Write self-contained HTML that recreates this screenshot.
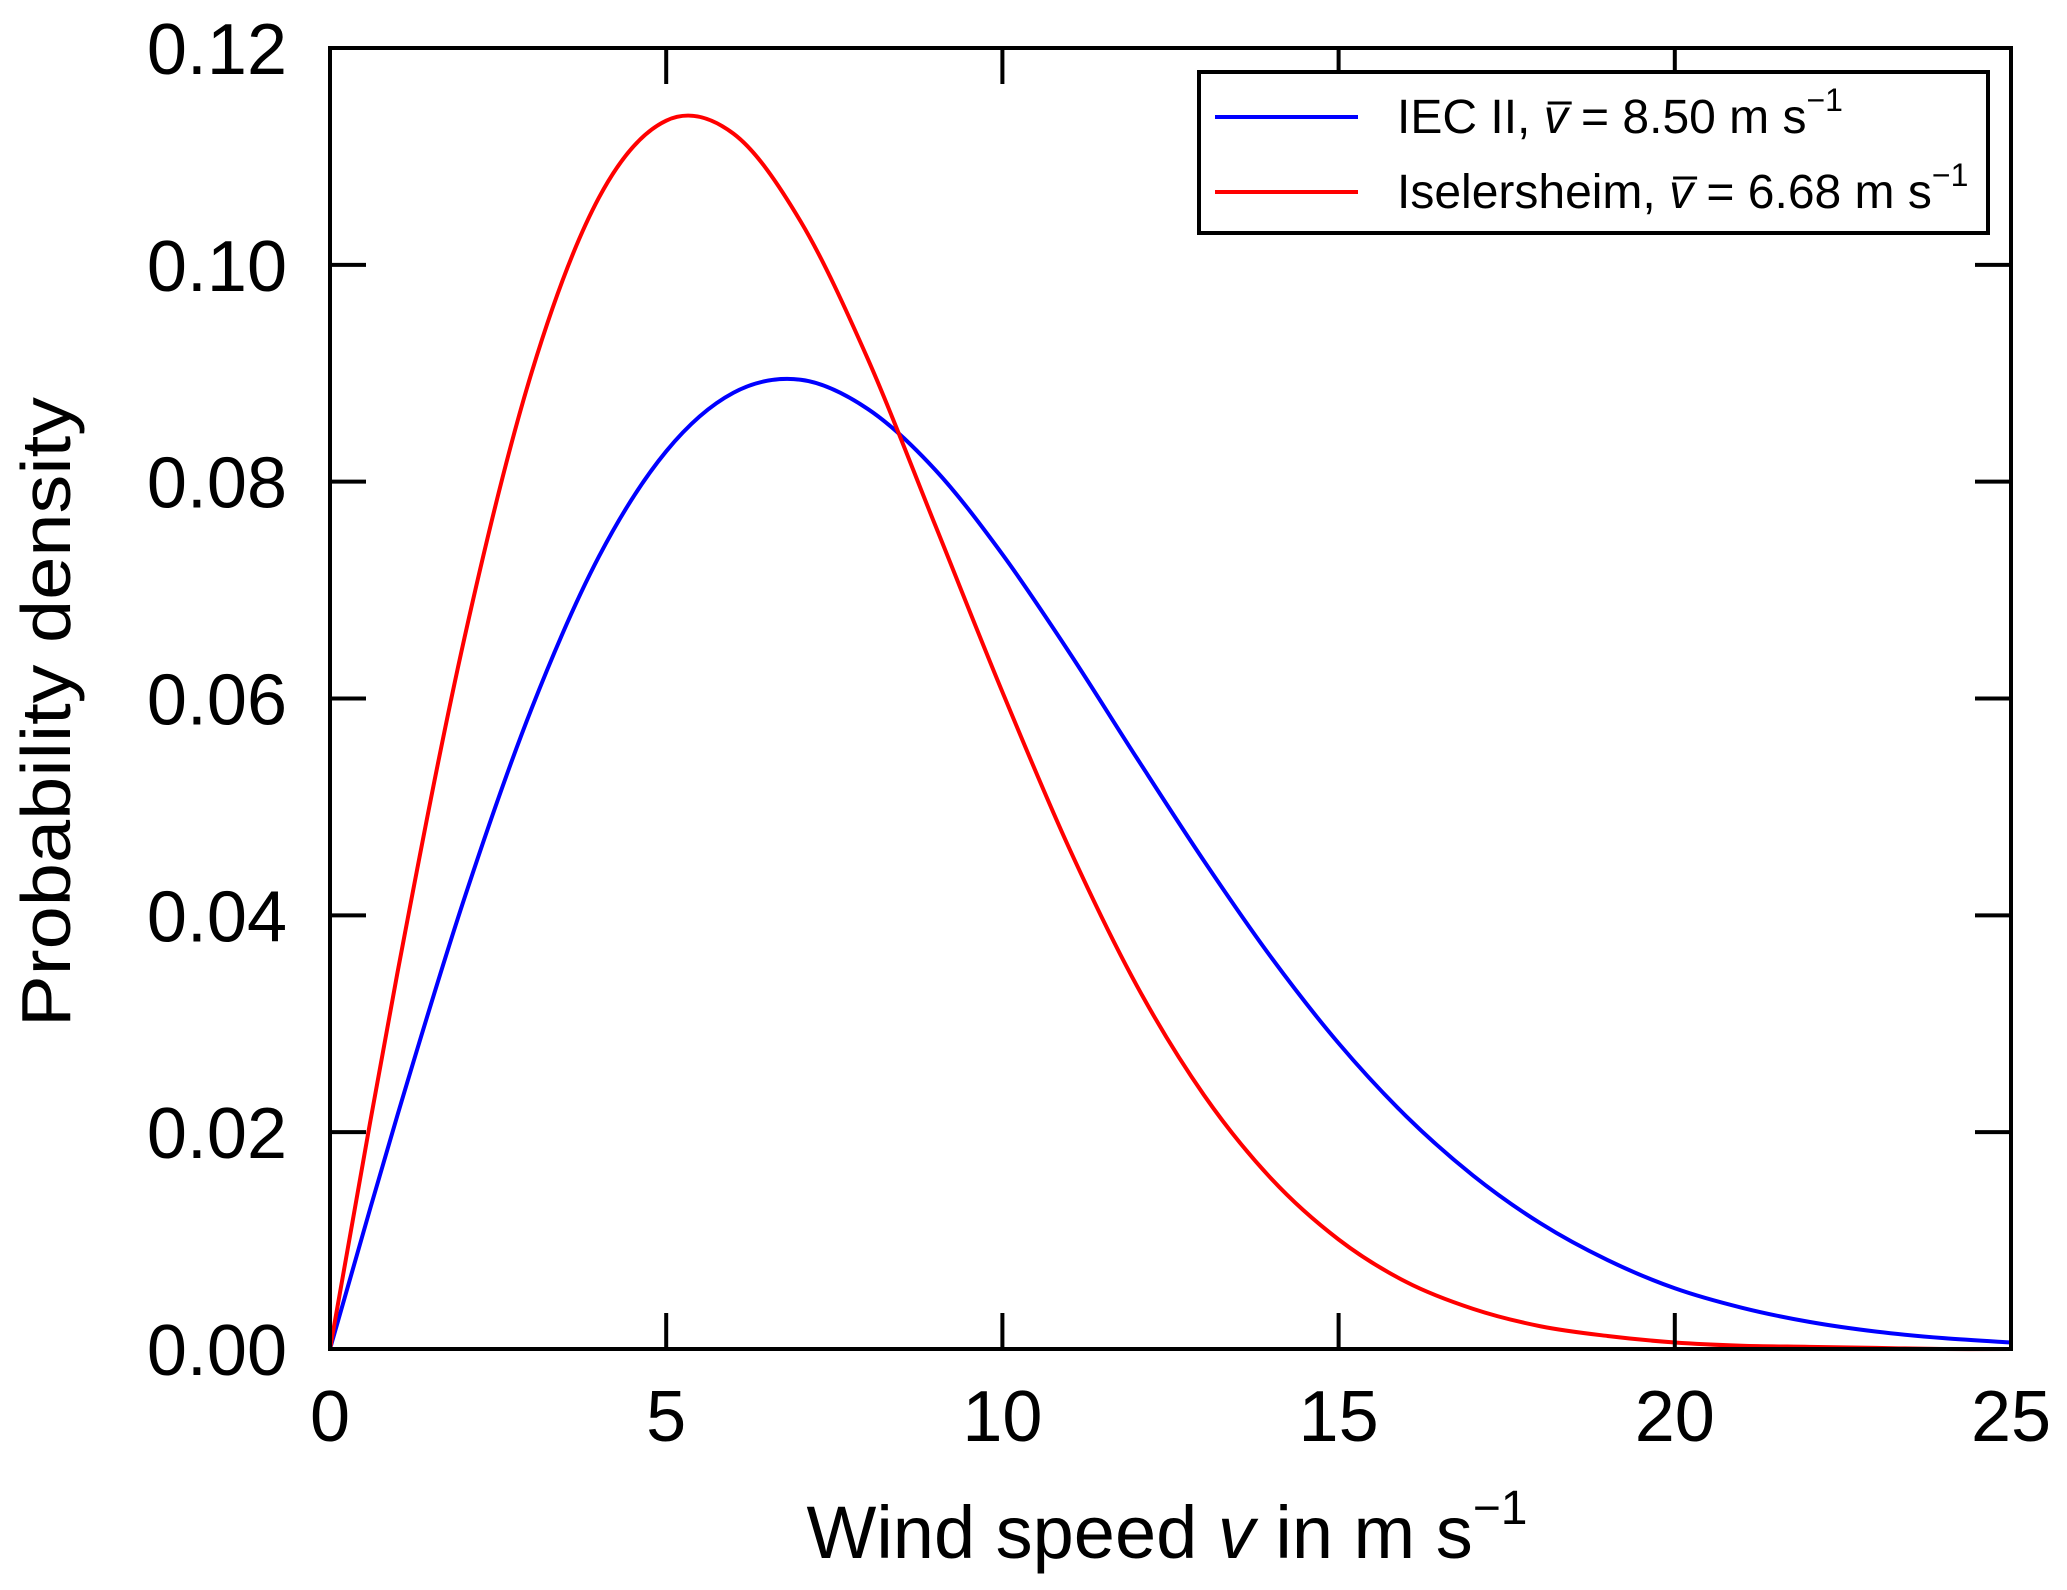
<!DOCTYPE html>
<html><head><meta charset="utf-8"><style>
html,body{margin:0;padding:0;background:#fff}
svg{display:block}
text{font-family:"Liberation Sans",sans-serif;fill:#000}
</style></head><body>
<svg id="chart" width="2067" height="1590" viewBox="0 0 2067 1590" xmlns="http://www.w3.org/2000/svg">
<rect width="2067" height="1590" fill="#fff"/>
<g id="series"></g>
<g id="axes"></g>
<text x="1167" y="1558" font-size="74" text-anchor="middle">Wind speed <tspan font-style="italic">v</tspan> in m s<tspan font-size="48" dy="-34">−1</tspan></text>
<text transform="translate(70,712) rotate(-90)" font-size="70" text-anchor="middle" textLength="630" lengthAdjust="spacingAndGlyphs">Probability density</text>
<g id="legend">
<rect x="1199" y="72" width="789" height="161" fill="#fff" stroke="#000" stroke-width="4"/>
<line x1="1215" y1="117" x2="1358" y2="117" stroke="#0000ff" stroke-width="4"/>
<line x1="1215" y1="192" x2="1358" y2="192" stroke="#ff0000" stroke-width="4"/>
<text id="leg1" x="1397" y="133" font-size="48">IEC II, <tspan font-style="italic">v</tspan> = 8.50 m s<tspan font-size="32" dy="-22">−1</tspan></text>
<text id="leg2" x="1397" y="208" font-size="48">Iselersheim, <tspan font-style="italic">v</tspan> = 6.68 m s<tspan font-size="32" dy="-22">−1</tspan></text>
</g>
</svg>
<script>
const xs = [0,1,2,3,4,5,6,7,8,9,10,11,12,13,14,15,16,17,18,19,20,21,22,23,24,25];
const iecValues = [0,0.0215,0.0416,0.0591,0.0731,0.0828,0.0882,0.0894,0.0867,0.0811,0.0733,0.0642,0.0545,0.0450,0.0361,0.0282,0.0215,0.0160,0.0116,0.0082,0.0056,0.0038,0.0025,0.0016,0.0010,0.0006];
const iselValues = [0,0.0346,0.0656,0.0901,0.1062,0.1133,0.1121,0.1040,0.0913,0.0760,0.0606,0.0461,0.0335,0.0234,0.0157,0.0101,0.0062,0.0037,0.0021,0.0012,0.0006,0.0003,0.0002,0.0001,0.0000,0.0000];
const xTicks = [0,5,10,15,20,25];
const yTicks = [0,0.02,0.04,0.06,0.08,0.10,0.12];
const yTickLabels = ["0.00","0.02","0.04","0.06","0.08","0.10","0.12"];

const L=330,R=2011,T=48,B=1349;
const sx=v=>L+(v-0)/(25-0)*(R-L);
const sy=v=>B-(v-0)/(0.12-0)*(B-T);
const NS="http://www.w3.org/2000/svg";
const series=document.getElementById('series');
const axes=document.getElementById('axes');

function pathFor(vals){
  const p=xs.map((x,i)=>[sx(x),sy(vals[i])]);
  let d=`M${p[0][0]},${p[0][1]}`;
  for(let i=0;i<p.length-1;i++){
    const p0=p[Math.max(0,i-1)],p1=p[i],p2=p[i+1],p3=p[Math.min(p.length-1,i+2)];
    const c1=[p1[0]+(p2[0]-p0[0])/6,p1[1]+(p2[1]-p0[1])/6];
    const c2=[p2[0]-(p3[0]-p1[0])/6,p2[1]-(p3[1]-p1[1])/6];
    d+=` C${c1[0]},${c1[1]} ${c2[0]},${c2[1]} ${p2[0]},${p2[1]}`;
  }
  return d;
}
function addLine(vals,color,name){
  const el=document.createElementNS(NS,'path');
  el.setAttribute('d',pathFor(vals));
  el.setAttribute('fill','none');
  el.setAttribute('stroke',color);
  el.setAttribute('stroke-width','4');
  
  
  series.appendChild(el);
}
addLine(iecValues,'#0000ff','line-iec-ii');
addLine(iselValues,'#ff0000','line-iselersheim');

const frame=document.createElementNS(NS,'rect');
frame.setAttribute('x',L);frame.setAttribute('y',T);
frame.setAttribute('width',R-L);frame.setAttribute('height',B-T);
frame.setAttribute('fill','none');frame.setAttribute('stroke','#000');frame.setAttribute('stroke-width','4');


axes.appendChild(frame);

function tick(x1,y1,x2,y2,name){
  const t=document.createElementNS(NS,'line');
  t.setAttribute('x1',x1);t.setAttribute('y1',y1);t.setAttribute('x2',x2);t.setAttribute('y2',y2);
  t.setAttribute('stroke','#000');t.setAttribute('stroke-width','4');
  
  
  axes.appendChild(t);
}
xTicks.forEach(v=>{
  const x=sx(v);
  tick(x,B,x,B-36,'x-tick');
  tick(x,T,x,T+36,'x-tick-top');
  const tx=document.createElementNS(NS,'text');
  tx.setAttribute('x',x);tx.setAttribute('y',1441);
  tx.setAttribute('font-size','72');tx.setAttribute('text-anchor','middle');
  tx.textContent=String(v);
  
  
  axes.appendChild(tx);
});
yTicks.forEach((v,i)=>{
  const y=sy(v);
  tick(L,y,L+36,y,'y-tick');
  tick(R,y,R-36,y,'y-tick-right');
  const tx=document.createElementNS(NS,'text');
  tx.setAttribute('x',287);tx.setAttribute('y',y+26);
  tx.setAttribute('font-size','72');tx.setAttribute('text-anchor','end');
  tx.textContent=yTickLabels[i];
  
  
  axes.appendChild(tx);
});

const legend=document.getElementById('legend');
['leg1','leg2'].forEach(id=>{
  const t=document.getElementById(id);
  const idx=t.textContent.indexOf('v');
  const s=t.getStartPositionOfChar(idx), e=t.getEndPositionOfChar(idx);
  const ln=document.createElementNS(NS,'line');
  ln.setAttribute('x1',s.x+4);ln.setAttribute('x2',e.x+4);
  ln.setAttribute('y1',s.y-30);ln.setAttribute('y2',s.y-30);
  ln.setAttribute('stroke','#000');ln.setAttribute('stroke-width','3');
  
  
  legend.appendChild(ln);
});
</script>
</body></html>
